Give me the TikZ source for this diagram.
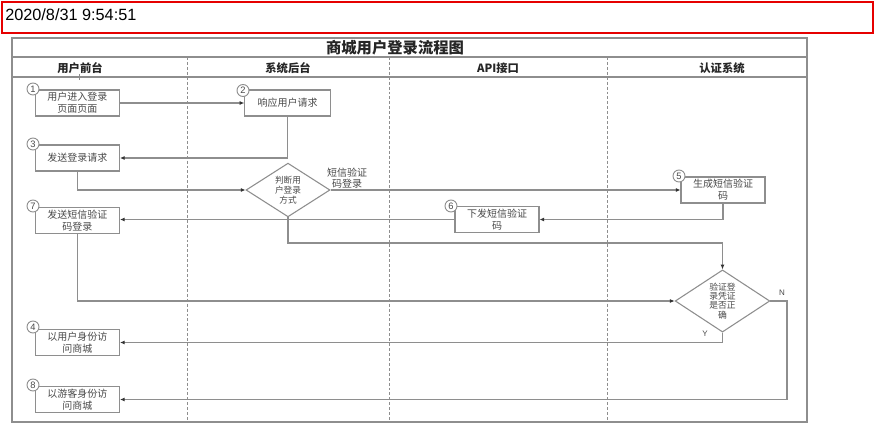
\documentclass[tikz,border=0pt]{standalone}
\usepackage{fontspec}
\setmainfont{Liberation Sans}
\newfontfamily\cjk{Noto Sans CJK SC}
\usetikzlibrary{arrows.meta,shapes.geometric}
\definecolor{ln}{HTML}{8E8E8E}
\definecolor{tx}{HTML}{4A4A4A}
\definecolor{redb}{HTML}{E60000}
\tikzset{
  px/.style={x=0.75pt,y=-0.75pt},
  box/.style={draw=ln,line width=0.8pt,fill=white,rectangle,inner sep=0pt,minimum width=63pt,minimum height=19.5pt,align=center,text=tx,font=\cjk\fontsize{7.5}{9}\selectfont},
  dia/.style={draw=ln,line width=0.8pt,fill=white,diamond,inner sep=0pt,align=center,text=tx,font=\cjk\fontsize{6.5}{7.4}\selectfont},
  num/.style={draw=ln,line width=0.7pt,fill=white,circle,inner sep=0pt,minimum size=9pt,text=tx,font=\fontsize{7}{7}\selectfont},
  conn/.style={draw=ln,line width=0.8pt,-{Latex[length=3.5pt,width=3pt,color=black!80]}},
  lane/.style={draw=ln,line width=0.6pt,dash pattern=on 2.2pt off 1.5pt},
  frame/.style={draw=ln,line width=0.8pt},
  head/.style={text=black!85,font=\cjk\bfseries\fontsize{8.5}{9}\selectfont},
  lbl/.style={text=tx,font=\cjk\fontsize{7.5}{8.5}\selectfont,align=center},
  yn/.style={text=tx,font=\rmfamily\fontsize{6}{6}\selectfont}
}
\begin{document}
\begin{tikzpicture}[px]
\useasboundingbox (0,0) rectangle (876,425);
\fill[white] (0,0) rectangle (876,425);
% timestamp box
\node[draw=redb,line width=1.5pt,minimum width=653.25pt,minimum height=23.25pt,inner sep=0pt] (ts) at (437.5,17) {};
\node[anchor=west,font=\fontsize{12.2}{13}\selectfont,inner sep=0pt] (tstext) at (5,14.5) {2020/8/31 9:54:51};
% frame
\draw[frame] (12,38) rectangle (807,422);
\draw[frame] (12,57) -- (807,57);
\draw[frame] (12,77) -- (807,77);
\node[text=black!85,font=\cjk\bfseries\fontsize{11.5}{12}\selectfont] (title) at (395,47.5) {商城用户登录流程图};
\node[head] (h1) at (80,68) {用户前台};
\node[head] (h2) at (288,68) {系统后台};
\node[head] (h3) at (498,68) {API接口};
\node[head] (h4) at (722,68) {认证系统};
\draw[ln,line width=0.6pt] (76,77) -- (82,77) (79,74) -- (79,80);
% lanes
\draw[lane] (187,57) -- (187,422);
\draw[lane] (389,57) -- (389,422);
\draw[lane] (607,57) -- (607,422);
% nodes
\node[box] (b1) at (77.5,103) {用户进入登录\\页面页面};
\node[box,minimum width=64pt] (b2) at (287.5,103) {响应用户请求};
\node[box] (b3) at (77.5,158) {发送登录请求};
\node[dia,minimum width=63pt,minimum height=34.5pt] (d1) at (288,190) {判断用\\户登录\\方式};
\node[box] (b5) at (723,190) {生成短信验证\\码};
\node[box] (b6) at (497,219.5) {下发短信验证\\码};
\node[box] (b7) at (77.5,220.5) {发送短信验证\\码登录};
\node[dia,minimum width=71pt,minimum height=42pt,font=\cjk\fontsize{6.6}{6.9}\selectfont] (d2) at (722.5,301) {验证登\\录凭证\\是否正\\确};
\node[box] (b4) at (77.5,342.5) {以用户身份访\\问商城};
\node[box] (b8) at (77.5,399.5) {以游客身份访\\问商城};
% numbers
\node[num] (n1) at (33,89) {1};
\node[num] (n2) at (243,90.5) {2};
\node[num] (n3) at (33,144) {3};
\node[num] (n5) at (679,176) {5};
\node[num] (n6) at (451,206) {6};
\node[num] (n7) at (33,206) {7};
\node[num] (n4) at (33,327) {4};
\node[num] (n8) at (33,385) {8};
% connectors
\coordinate (low) at (0,243);
\coordinate (nr) at (787,0);
\draw[conn] (b1.east) -- (b2.west);
\draw[conn] (b2.south) |- (b3.east);
\draw[conn] (b3.south) |- (d1.west);
\draw[conn] (d1.east) -- (b5.west);
\node[lbl] (l1) at (347,178) {短信验证\\码登录};
\draw[conn] (b5.south) |- (b6.east);
\draw[conn] (b6.west) -- (b6.west -| b7.east);
\draw[conn] (d1.south) -- (d1.south |- low) -| (d2.north);
\draw[conn] (b7.south) |- (d2.west);
\draw[conn] (d2.south) |- (b4.east);
\draw[conn] (d2.east) -| (nr |- b8.east) -- (b8.east);
\node[yn] (ly) at (705,334) {Y};
\node[yn] (lnn) at (782,293) {N};
\end{tikzpicture}
\end{document}
